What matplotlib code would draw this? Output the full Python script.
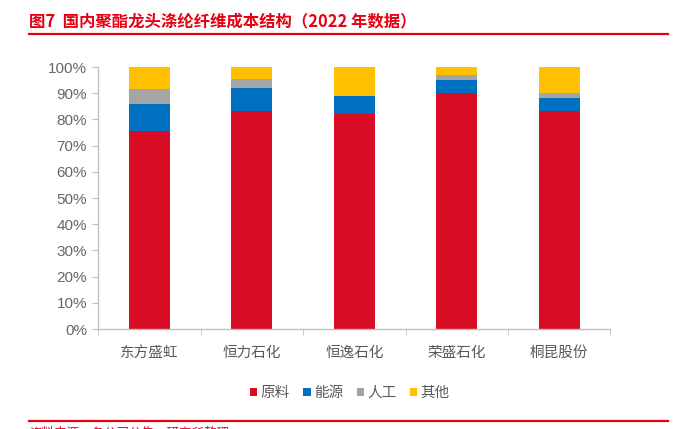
import numpy as np
import matplotlib
matplotlib.use('Agg')
import matplotlib.pyplot as plt
from matplotlib.patches import Patch
from matplotlib.lines import Line2D

plt.rcParams['font.family'] = ['Liberation Sans', 'Noto Sans CJK SC', 'DejaVu Sans']

companies = ['东方盛虹', '恒力石化', '恒逸石化', '荣盛石化', '桐昆股份']
series = ['原料', '能源', '人工', '其他']
raw = [75.5, 83.1, 82.2, 90.0, 83.1]
energy = [10.3, 9.0, 6.8, 5.1, 5.1]
labor = [5.8, 3.3, 0.0, 1.8, 1.8]
other = [8.4, 4.6, 11.0, 3.1, 10.0]
yticks = [0, 10, 20, 30, 40, 50, 60, 70, 80, 90, 100]

colors = ['#D80C24', '#0070C0', '#A5A5A5', '#FFC000']
red = '#E60012'
grey_txt = '#595959'

fig = plt.figure(figsize=(6.89, 4.29), dpi=100)
ax = fig.add_axes([0.1425, 0.2331, 0.7435, 0.6107])

x = np.arange(len(companies))
bottom = np.zeros(len(companies))
for vals, c, name in zip([raw, energy, labor, other], colors, series):
    ax.bar(x, vals, 0.4, bottom=bottom, color=c, label=name, zorder=2)
    bottom += np.array(vals)

ax.set_xlim(-0.5, len(companies) - 0.5)
ax.set_ylim(0, 100)
ax.set_yticks(yticks)
ax.set_yticklabels([str(v) + '%' for v in yticks], fontsize=11, color='#666666')
ax.set_xticks(x)
ax.set_xticklabels(companies, fontsize=10.5, color=grey_txt, family=['Noto Sans CJK SC'])
ax.set_xticks(np.arange(-0.5, len(companies)), minor=True)
ax.tick_params(axis='x', which='major', length=0, pad=12)
ax.tick_params(axis='x', which='minor', length=4, color='#BFBFBF', direction='out')
ax.tick_params(axis='y', length=4, color='#BFBFBF', pad=4)

for s in ['top', 'right']:
    ax.spines[s].set_visible(False)
for s in ['left', 'bottom']:
    ax.spines[s].set_color('#BFBFBF')
    ax.spines[s].set_linewidth(1.0)

handles = [Patch(facecolor=c, edgecolor='none') for c in colors]
fig.legend(handles, series, loc='center', bbox_to_anchor=(350 / 689, 1 - 393 / 429),
           ncol=4, frameon=False, handlelength=0.5, handleheight=0.5,
           handletextpad=0.25, columnspacing=0.9,
           prop={'family': 'Noto Sans CJK SC', 'size': 10.5}, labelcolor=grey_txt)

# title and red rules
fig.text(29 / 689, 1 - 21.5 / 429, '图7  国内聚酯龙头涤纶纤维成本结构（2022 年数据）',
         fontsize=11.8, fontweight='bold', color=red, va='center', ha='left',
         family=['Noto Sans CJK SC'])
fig.add_artist(Line2D([29 / 689, 668 / 689], [1 - 33.7 / 429] * 2, color=red, lw=1.6))
fig.add_artist(Line2D([29 / 689, 668 / 689], [1 - 420.7 / 429] * 2, color=red, lw=1.6))
fig.text(29 / 689, 1 - 426.5 / 429, '资料来源：各公司公告，研究所整理', fontsize=9,
         color=red, va='top', ha='left', family=['Noto Sans CJK SC'])

fig.savefig('out.png', dpi=100)
